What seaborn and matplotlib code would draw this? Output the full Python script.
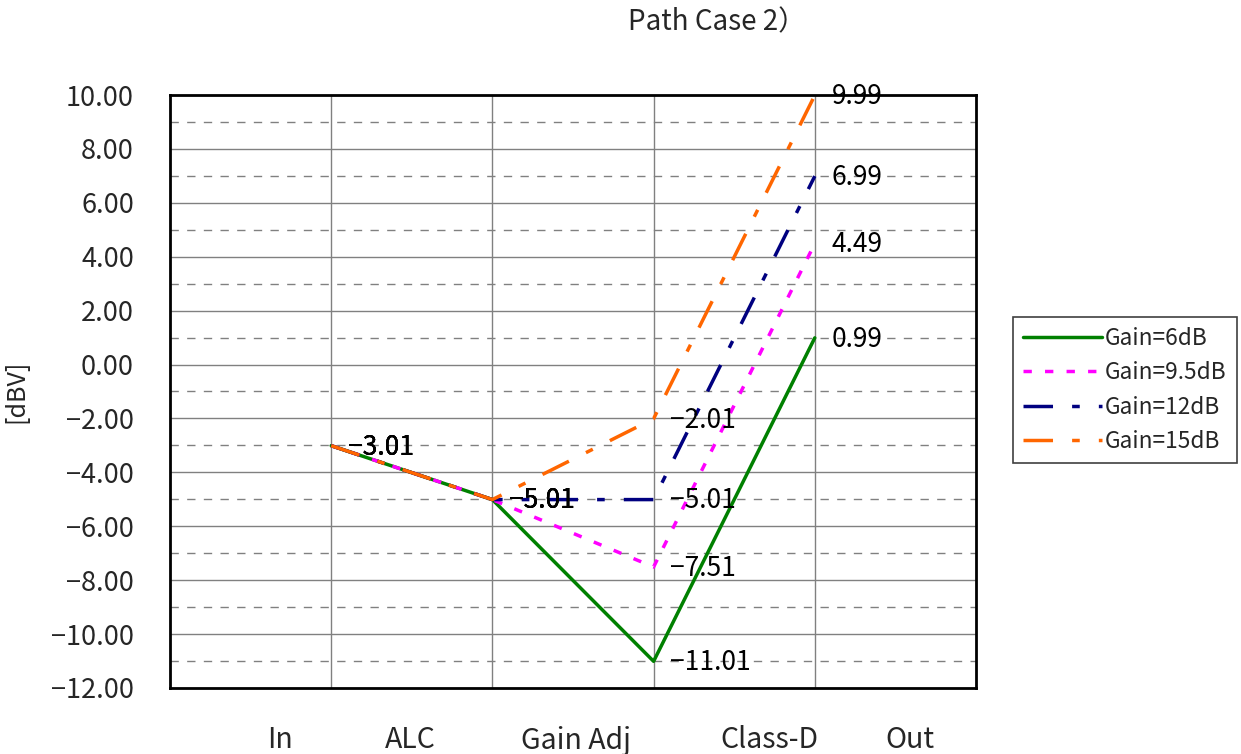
import pandas as pd
import numpy as np
import matplotlib
matplotlib.use("Agg")
import matplotlib.pyplot as plt
import seaborn as sns
from matplotlib.ticker import MultipleLocator, FuncFormatter

# stages and measured levels [dBV]
stage_labels = ['In', 'ALC', 'Gain Adj', 'Class-D', 'Out']
point_pos = [1, 2, 3, 4]          # ALC, Gain Adj, Class-D, Out boundaries
series_names = ['Gain=6dB', 'Gain=9.5dB', 'Gain=12dB', 'Gain=15dB']
alc = [-3.01, -3.01, -3.01, -3.01]
gain_adj = [-5.01, -5.01, -5.01, -5.01]
class_d = [-11.01, -7.51, -5.01, -2.01]
out = [0.99, 4.49, 6.99, 9.99]

colors = ['#008000', '#FF00FF', '#000080', '#FF6600']
styles = ['-', (0, (2.4, 3.8)), (0, (8.5, 5.5, 2.2, 5.5)), (0, (8.5, 5.5, 2.2, 5.5))]

rows = []
for i, name in enumerate(series_names):
    for pos, val in zip(point_pos, [alc[i], gain_adj[i], class_d[i], out[i]]):
        rows.append({'pos': pos, 'value': val, 'gain': name})
df = pd.DataFrame(rows)

sns.set_style('white')
plt.rcParams['font.family'] = ['Noto Sans CJK JP', 'DejaVu Sans']

fig = plt.figure(figsize=(12.41, 7.54), dpi=100)
ax = fig.add_axes([170 / 1241, 1 - 688 / 754, (976 - 170) / 1241, (688 - 95) / 754])

for name, col, ls in zip(series_names, colors, styles):
    sub = df[df['gain'] == name]
    sns.lineplot(data=sub, x='pos', y='value', ax=ax, color=col, linestyle=ls,
                 linewidth=2.5, label=name, zorder=3)
    for _, r in sub.iterrows():
        ax.annotate(f"{r['value']:.2f}".replace('-', '\u2212'), (r['pos'], r['value']),
                    xytext=(12, -1), textcoords='offset points', ha='left', va='center',
                    fontsize=19, color='black', zorder=5)

ax.set_xlim(0, 5)
ax.set_ylim(-12, 10)
ax.yaxis.set_major_locator(MultipleLocator(2))
ax.yaxis.set_minor_locator(MultipleLocator(1))
ax.yaxis.set_major_formatter(FuncFormatter(lambda v, p: f"{v:.2f}".replace('-', '\u2212')))
ax.grid(True, axis='y', which='major', color='#808080', linewidth=1.0)
ax.grid(True, axis='y', which='minor', color='#808080', linewidth=1.0, linestyle=(0, (6, 6)))
ax.tick_params(axis='y', which='major', direction='in', length=7, width=1.5,
               color='#606060', pad=26, labelsize=19.5)
ax.tick_params(axis='y', which='minor', length=0)

# vertical grid at the stage boundaries, labels between them
ax.set_xticks([1, 2, 3, 4])
ax.grid(True, axis='x', which='major', color='#808080', linewidth=1.0)
ax.set_xticks([0.68, 1.49, 2.52, 3.72, 4.59], minor=True)
ax.set_xticklabels([], minor=False)
ax.set_xticklabels(stage_labels, minor=True)
ax.tick_params(axis='x', which='both', length=0)
ax.tick_params(axis='x', which='minor', pad=27, labelsize=20.5)
ax.set_xlabel('')
ax.set_ylabel('[dBV]', fontsize=18)
ax.yaxis.set_label_coords(-0.175, 0.5, transform=ax.transAxes)

for sp in ax.spines.values():
    sp.set_color('black')
    sp.set_linewidth(2)

leg = ax.legend(loc='center left', bbox_to_anchor=(1013 / 1241, 1 - 390 / 754),
                bbox_transform=fig.transFigure, fontsize=16.3, frameon=True,
                fancybox=False, framealpha=1, edgecolor='#404040',
                handlelength=3.5, handletextpad=0.1, labelspacing=0.5,
                borderpad=0.45, borderaxespad=0)
leg.get_frame().set_linewidth(1.2)

fig.text(628 / 1241, 1 - 22 / 754, 'Path Case 2）', ha='left', va='center', fontsize=20)

fig.savefig('out.png', dpi=100)
